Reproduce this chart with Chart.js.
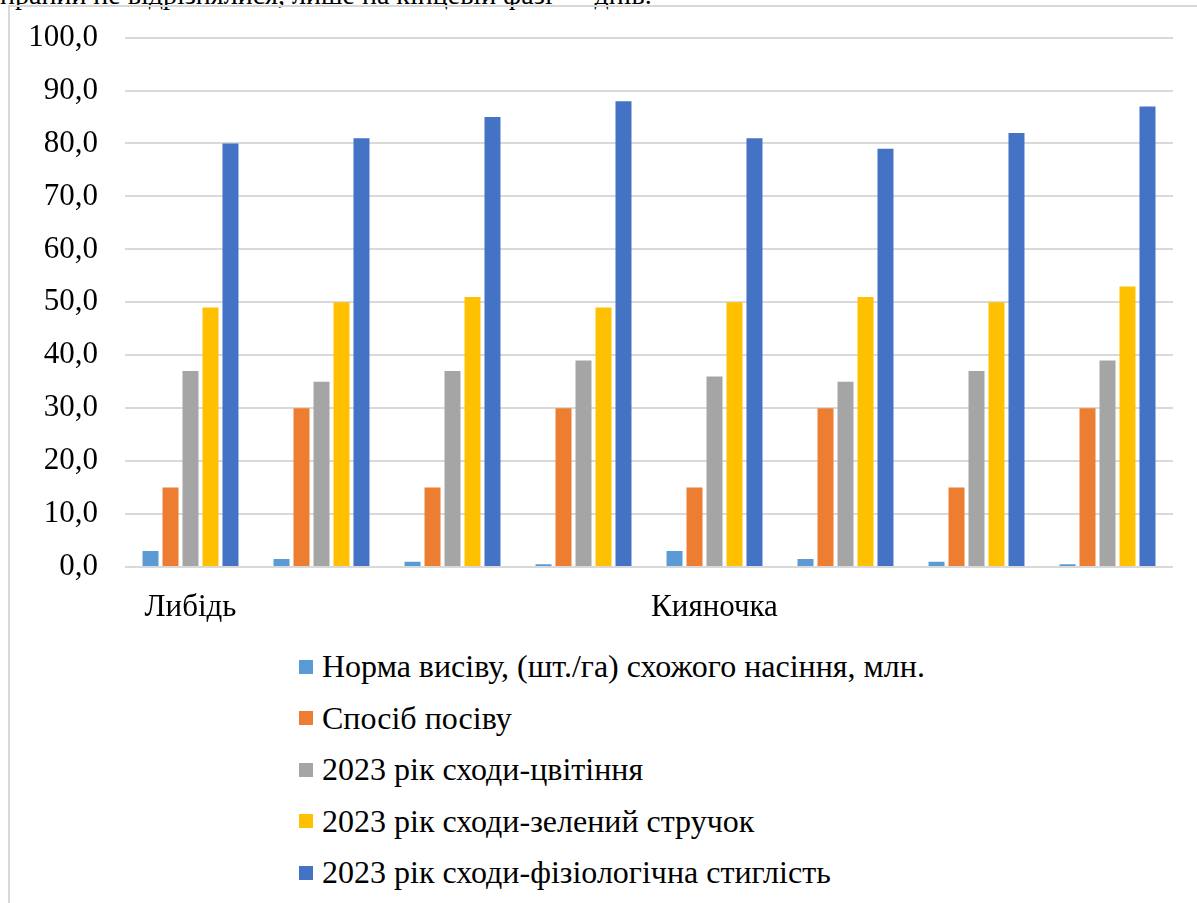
<!DOCTYPE html>
<html lang="uk">
<head>
<meta charset="utf-8">
<title>Тривалість міжфазних періодів</title>
<script src="https://cdn.jsdelivr.net/npm/chart.js@4.4.1/dist/chart.umd.min.js"></script>
<style>
  html, body { margin: 0; padding: 0; background: #fff; }
  body { width: 1197px; height: 903px; position: relative; overflow: hidden;
         font-family: "Liberation Serif", "Times New Roman", serif; color: #000; }
  #lead { position: absolute; left: 0; top: -19px; font-size: 28px; line-height: 1;
          white-space: nowrap; }
  #frame { position: absolute; left: 8px; top: 5px; width: 1300px; height: 1000px;
           border-left: 2px solid #d9d9d9; border-top: 2px solid #d9d9d9; }
  #wrap { position: absolute; left: 0; top: -8px; width: 1197px; height: 638px; }
  #legend { position: absolute; left: 299px; top: 641px; margin: 0; padding: 0; list-style: none; }
  #legend li { height: 51.5px; display: flex; align-items: center; font-size: 32px; white-space: nowrap; }
  #legend .sw { width: 14px; height: 14px; margin-right: 9px; flex: none; }
</style>
</head>
<body>
<div id="lead">праний не відрізнялися, лише на кінцевій фазі — днів.</div>
<div id="frame"></div>
<div id="wrap"><canvas id="chart"></canvas></div>
<ul id="legend"></ul>
<script>
// Varieties: only the first column of each variety block is labelled
const categories = ["Либідь", "", "", "", "Кияночка", "", "", ""];

const seriesNames = [
  "Норма висіву, (шт./га) схожого насіння, млн.",
  "Спосіб посіву",
  "2023 рік сходи-цвітіння",
  "2023 рік сходи-зелений стручок",
  "2023 рік сходи-фізіологічна стиглість"
];

const seedingRate   = [3, 1.5, 1, 0.5, 3, 1.5, 1, 0.5];
const sowingMethod  = [15, 30, 15, 30, 15, 30, 15, 30];
const toFlowering   = [37, 35, 37, 39, 36, 35, 37, 39];
const toGreenPod    = [49, 50, 51, 49, 50, 51, 50, 53];
const toMaturity    = [80, 81, 85, 88, 81, 79, 82, 87];

const yTicks = [0, 10, 20, 30, 40, 50, 60, 70, 80, 90, 100];

const seriesColors = ["#5B9BD5", "#ED7D31", "#A5A5A5", "#FFC000", "#4472C4"];
const seriesValues = [seedingRate, sowingMethod, toFlowering, toGreenPod, toMaturity];

const serif = "'Liberation Serif', 'Times New Roman', serif";

const chart = new Chart(document.getElementById("chart"), {
  type: "bar",
  data: {
    labels: categories,
    datasets: seriesNames.map((name, i) => ({
      label: name,
      data: seriesValues[i],
      backgroundColor: seriesColors[i],
      borderWidth: 0,
      categoryPercentage: 0.763,
      barPercentage: 0.8
    }))
  },
  options: {
    responsive: true,
    maintainAspectRatio: false,
    animation: false,
    layout: { padding: { top: 29, right: 24, left: 0, bottom: 0 } },
    plugins: {
      legend: { display: false },
      tooltip: { enabled: false }
    },
    scales: {
      x: {
        grid: { display: false, drawTicks: false },
        border: { display: false },
        ticks: {
          autoSkip: false, maxRotation: 0, minRotation: 0, padding: 22,
          color: "#000", font: { family: serif, size: 31 }
        },
        afterFit: s => { s.height = 63; }
      },
      y: {
        min: 0, max: 100,
        afterBuildTicks: s => { s.ticks = yTicks.map(v => ({ value: v })); },
        grid: { color: "#d9d9d9", lineWidth: 2, drawTicks: false },
        border: { display: false },
        ticks: {
          padding: 27, color: "#000",
          font: { family: serif, size: 31 },
          callback: v => v.toFixed(1).replace(".", ",")
        },
        afterFit: s => { s.width = 125; }
      }
    }
  }
});

// Legend listing one series per row
const legendEl = document.getElementById("legend");
chart.data.datasets.forEach(ds => {
  const li = document.createElement("li");
  const sw = document.createElement("span");
  sw.className = "sw";
  sw.style.background = ds.backgroundColor;
  li.appendChild(sw);
  li.appendChild(document.createTextNode(ds.label));
  legendEl.appendChild(li);
});
</script>
</body>
</html>
